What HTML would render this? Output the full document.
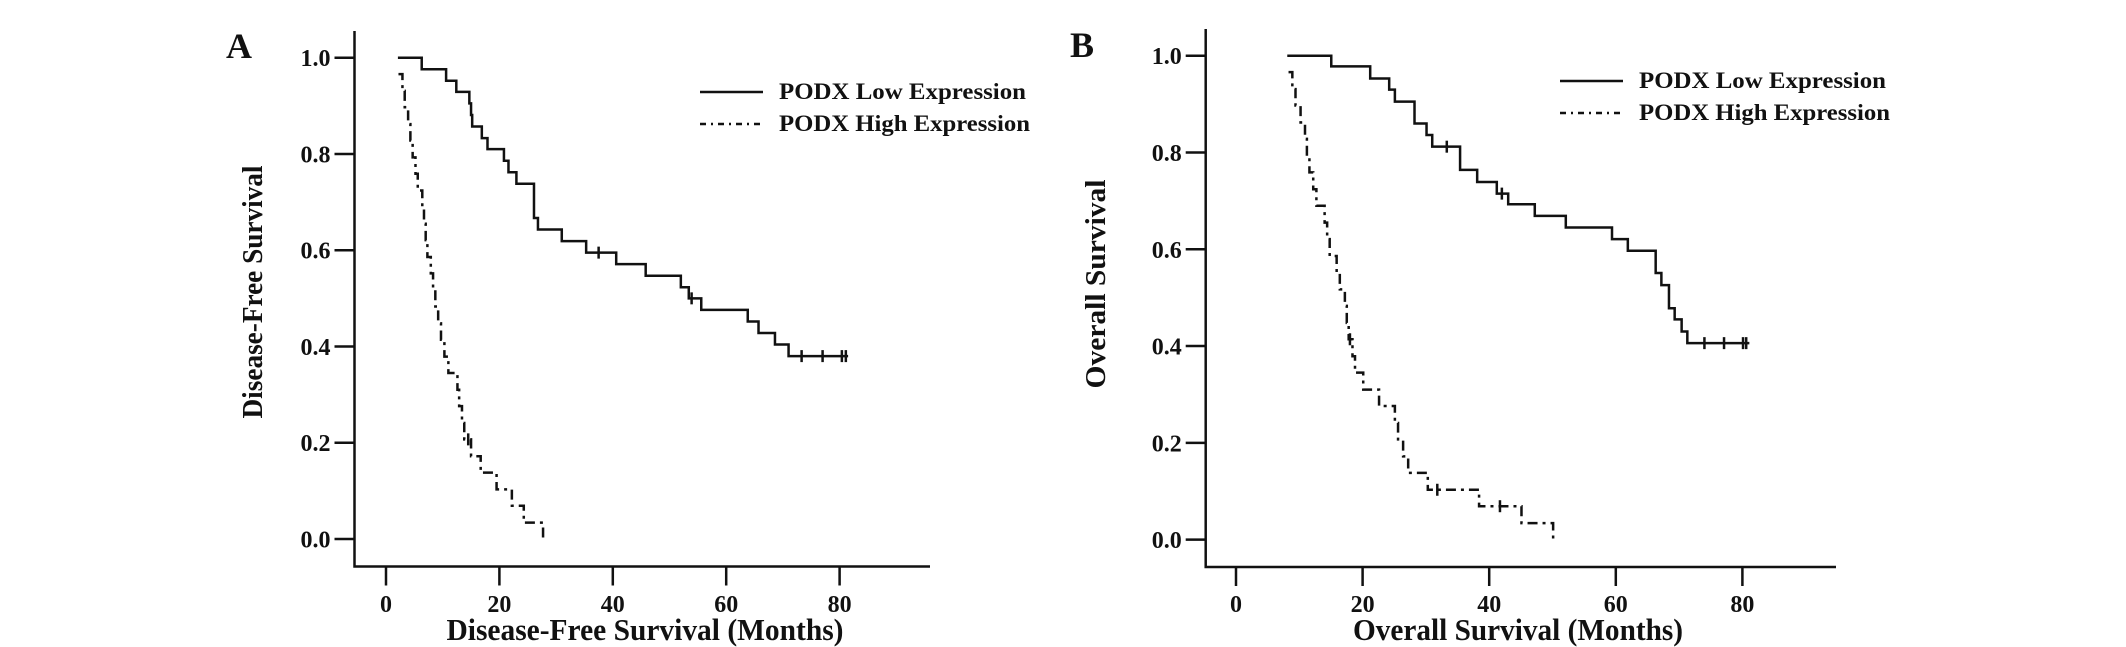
<!DOCTYPE html>
<html><head><meta charset="utf-8"><style>
html,body{margin:0;padding:0;background:#fff;}
svg{display:block;}
text{font-family:"Liberation Serif","Times New Roman",serif;font-weight:bold;fill:#111;}
</style></head><body>
<svg id="fig" width="2126" height="647" viewBox="0 0 2126 647" xmlns="http://www.w3.org/2000/svg"></svg>
<script>
// ---- Panel A data (Disease-free survival) ----
const aLowStart = [2.1, 1.0];
const aLowTimes = [6.3,10.6,12.4,14.7,15.0,15.2,16.9,17.9,20.8,21.6,23.0,26.1,26.8,31.0,35.3,40.6,45.8,52.0,53.4,55.6,63.8,65.7,68.6,71.0];
const aLowVals = [0.976,0.952,0.929,0.905,0.881,0.857,0.833,0.810,0.786,0.762,0.738,0.667,0.643,0.619,0.595,0.571,0.547,0.523,0.500,0.476,0.452,0.428,0.404,0.380];
const aLowCens = [37.5,53.9,73.3,77.0,80.4,81.1];
const aLowEnd = 81.5;
const aHighStart = [2.2, 0.966];
const aHighTimes = [2.9,3.3,3.9,4.3,4.7,5.2,5.6,6.4,6.7,7.0,7.3,7.9,8.3,8.7,9.2,9.7,10.3,11.0,12.6,12.9,13.4,13.8,15.0,16.7,19.5,22.2,24.3,27.7];
const aHighVals = [0.931,0.897,0.862,0.828,0.793,0.759,0.724,0.690,0.655,0.621,0.586,0.552,0.517,0.483,0.448,0.414,0.379,0.345,0.310,0.276,0.241,0.207,0.172,0.138,0.103,0.069,0.034,0.0];
const aHighCens = [14.5];
const aHighEnd = 27.7;
// ---- Panel B data (Overall survival) ----
const bLowStart = [8.1, 1.0];
const bLowTimes = [15.05,21.2,24.2,25.1,28.2,30.1,31.0,35.4,38.1,41.2,43.0,47.2,52.1,59.4,61.9,66.3,67.2,68.4,69.3,70.4,71.3];
const bLowVals = [0.978,0.953,0.930,0.905,0.860,0.836,0.812,0.764,0.739,0.715,0.693,0.669,0.645,0.621,0.597,0.551,0.526,0.478,0.455,0.430,0.406];
const bLowCens = [33.3,42.0,74.0,77.1,80.1,80.6];
const bLowEnd = 81.1;
const bHighStart = [8.3, 0.966];
const bHighTimes = [8.9,9.4,10.2,10.9,11.2,11.6,12.2,12.7,14.0,14.4,14.8,15.9,16.4,17.2,17.5,17.8,18.4,18.8,20.1,22.6,25.1,25.6,26.4,27.2,30.3,38.4,45.1,50.1];
const bHighVals = [0.931,0.897,0.862,0.828,0.793,0.759,0.724,0.690,0.655,0.621,0.586,0.552,0.517,0.483,0.448,0.414,0.379,0.345,0.310,0.276,0.241,0.207,0.172,0.138,0.103,0.069,0.034,0.0];
const bHighCens = [18.0,31.8,41.7];
const bHighEnd = 50.1;
// ---- ticks / labels ----
const xTicks = [0,20,40,60,80];
const yTicks = [0.0,0.2,0.4,0.6,0.8,1.0];
const legendLabels = ["PODX  Low Expression","PODX  High Expression"];

const NS="http://www.w3.org/2000/svg";
const svg=document.getElementById('fig');
function mk(tag,attrs,parent){const e=document.createElementNS(NS,tag);for(const k in attrs)e.setAttribute(k,attrs[k]);(parent||svg).appendChild(e);return e;}

const panels=[
 {id:'a',letter:'A',lx:226,ly:58,x0:386,ppm:5.67,y1:57.7,y0:539,ax:354.5,top:31,base:566.5,right:930,
  ytitle:'Disease-Free Survival',ytx:262,yty:292,ytl:253,
  xtitle:'Disease-Free Survival (Months)',xtx:645,xtl:397,
  legX:700,legY:92,
  low:[aLowStart,aLowTimes,aLowVals,aLowCens,aLowEnd],high:[aHighStart,aHighTimes,aHighVals,aHighCens,aHighEnd]},
 {id:'b',letter:'B',lx:1070,ly:57,x0:1236,ppm:6.33,y1:55.7,y0:539.6,ax:1205.7,top:29,base:567,right:1836,
  ytitle:'Overall Survival',ytx:1105,yty:284,ytl:209,
  xtitle:'Overall Survival (Months)',xtx:1518,xtl:330,
  legX:1560,legY:81,
  low:[bLowStart,bLowTimes,bLowVals,bLowCens,bLowEnd],high:[bHighStart,bHighTimes,bHighVals,bHighCens,bHighEnd]}
];

panels.forEach(p=>{
  const g=mk('g',{});
  
  
  const X=t=>p.x0+t*p.ppm;
  const Y=v=>p.y0-(p.y0-p.y1)*v;
  const letter=mk('text',{x:p.lx,y:p.ly,'font-size':36},g);letter.textContent=p.letter;
  
  
  const axes=mk('path',{d:`M${p.ax},${p.top} V${p.base} H${p.right}`,fill:'none',stroke:'#111','stroke-width':2.5},g);
  
  
  yTicks.forEach(v=>{
    const tk=mk('line',{x1:p.ax-20,x2:p.ax,y1:Y(v),y2:Y(v),stroke:'#111','stroke-width':2.5},g);
    
    
    const tl=mk('text',{x:p.ax-24,y:Y(v)+8.5,'font-size':24,'text-anchor':'end'},g);
    tl.textContent=v.toFixed(1);
    
    
  });
  xTicks.forEach(t=>{
    const tk=mk('line',{x1:X(t),x2:X(t),y1:p.base,y2:p.base+19,stroke:'#111','stroke-width':2.5},g);
    
    
    const tl=mk('text',{x:X(t),y:612,'font-size':24,'text-anchor':'middle'},g);
    tl.textContent=String(t);
    
    
  });
  const yt=mk('text',{x:0,y:0,'font-size':29,'text-anchor':'middle',textLength:p.ytl,lengthAdjust:'spacingAndGlyphs',transform:`translate(${p.ytx},${p.yty}) rotate(-90)`},g);
  yt.textContent=p.ytitle;
  
  
  const xt=mk('text',{x:p.xtx,y:640,'font-size':31,'text-anchor':'middle',textLength:p.xtl,lengthAdjust:'spacingAndGlyphs'},g);
  xt.textContent=p.xtitle;
  
  

  function drawSeries(s,dash,name){
    const [st,times,vals,cens,end]=s;
    let d=`M${X(st[0])},${Y(st[1])}`;
    for(let i=0;i<times.length;i++){d+=` H${X(times[i])} V${Y(vals[i])}`;}
    d+=` H${X(end)}`;
    const path=mk('path',{d:d,fill:'none',stroke:'#111','stroke-width':2.5,'stroke-dasharray':dash||'none'},g);
    
    
    const allT=[st[0]].concat(times), allV=[st[1]].concat(vals);
    cens.forEach(c=>{
      let v=allV[0];
      for(let i=0;i<allT.length;i++){if(allT[i]<=c)v=allV[i];}
      const cm=mk('line',{x1:X(c),x2:X(c),y1:Y(v)-6,y2:Y(v)+6,stroke:'#111','stroke-width':2.5},g);
      
      
    });
  }
  drawSeries(p.low,null,'low-expression');
  drawSeries(p.high,'10 5 3 5','high-expression');

  const lg=mk('g',{},g);
  
  
  const l1=mk('line',{x1:p.legX,x2:p.legX+63,y1:p.legY,y2:p.legY,stroke:'#111','stroke-width':2.5},lg);
  
  
  const t1=mk('text',{x:p.legX+79,y:p.legY+7,'font-size':23,textLength:247,lengthAdjust:'spacingAndGlyphs'},lg);
  t1.textContent=legendLabels[0];
  
  
  const l2=mk('line',{x1:p.legX,x2:p.legX+60,y1:p.legY+32,y2:p.legY+32,stroke:'#111','stroke-width':2.5,'stroke-dasharray':'6 5 2 5'},lg);
  
  
  const t2=mk('text',{x:p.legX+79,y:p.legY+39,'font-size':23,textLength:251,lengthAdjust:'spacingAndGlyphs'},lg);
  t2.textContent=legendLabels[1];
  
  
});
</script>
</body></html>
